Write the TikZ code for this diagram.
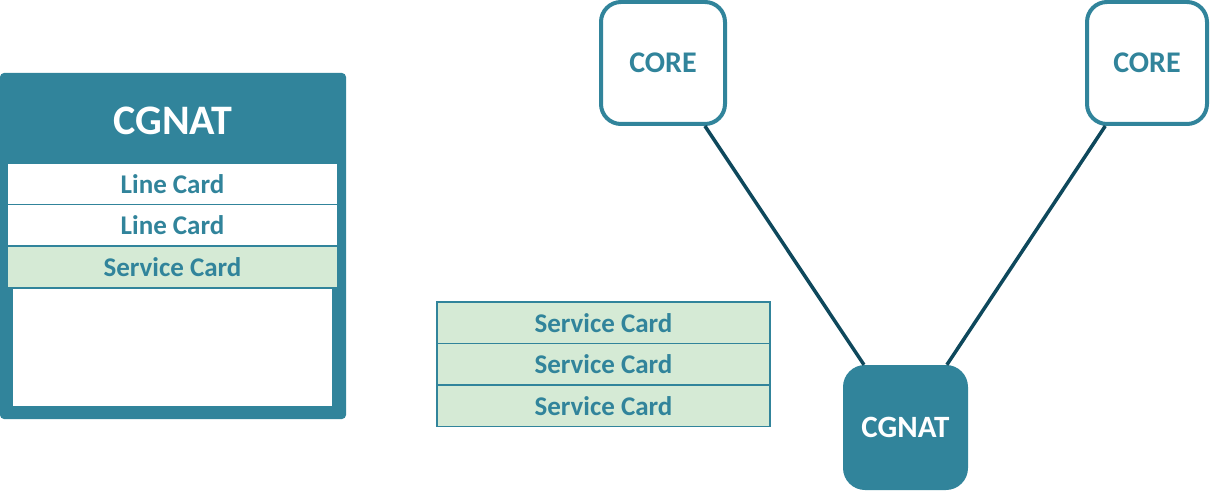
\documentclass[tikz,border=0pt]{standalone}
\usepackage{fontspec}
\setmainfont{Carlito}
\definecolor{teal1}{RGB}{49,132,155}
\definecolor{lightgreen}{RGB}{213,234,213}
\definecolor{darkline}{RGB}{14,72,92}
\begin{document}
\begin{tikzpicture}[x=1pt,y=-1pt,
  cardrow/.style={draw=teal1,line width=1.2pt,minimum width=331pt,minimum height=41pt,inner sep=0pt,
    font=\fontsize{27}{32}\selectfont\bfseries,text=teal1},
  linecard/.style={cardrow,fill=white},
  servcard/.style={cardrow,fill=lightgreen},
  corebox/.style={draw=teal1,line width=4pt,fill=white,rounded corners=20pt,minimum width=122pt,minimum height=122pt,
    inner sep=0pt,font=\fontsize{30}{34}\selectfont\bfseries,text=teal1},
  cgnatbox/.style={fill=teal1,rounded corners=22pt,minimum width=125pt,minimum height=125pt,inner sep=0pt,
    font=\fontsize{31}{36}\selectfont\bfseries,text=white},
  link/.style={draw=darkline,line width=3.5pt}]
\useasboundingbox (0,0) rectangle (1210,492);
% left chassis
\path[fill=teal1,rounded corners=4pt] (0,73) rectangle (346,419);
\node[font=\fontsize{42}{48}\selectfont\bfseries,text=white] (hdr) at (173,121) {CGNAT};
\node[linecard] (lc1) at (172.5,184) {Line Card};
\node[linecard] (lc2) at (172.5,225) {Line Card};
\node[servcard] (sc0) at (172.5,267) {Service Card};
\path[fill=white] (13,289) rectangle (332,406);
% service card stack
\node[servcard,minimum width=333pt,minimum height=41.5pt] (sc1) at (603.5,322.75) {Service Card};
\node[servcard,minimum width=333pt,minimum height=41.5pt] (sc2) at (603.5,364.25) {Service Card};
\node[servcard,minimum width=333pt,minimum height=41.5pt] (sc3) at (603.5,405.75) {Service Card};
% network
\node[corebox,minimum width=124pt,minimum height=122pt] (core1) at (663,63) {CORE};
\node[corebox,minimum width=120pt] (core2) at (1147,63) {CORE};
\node[cgnatbox] (cgnat) at (905.5,427.5) {CGNAT};
\draw[link] (core1) -- (cgnat);
\draw[link] (core2) -- (cgnat);
\end{tikzpicture}
\end{document}
